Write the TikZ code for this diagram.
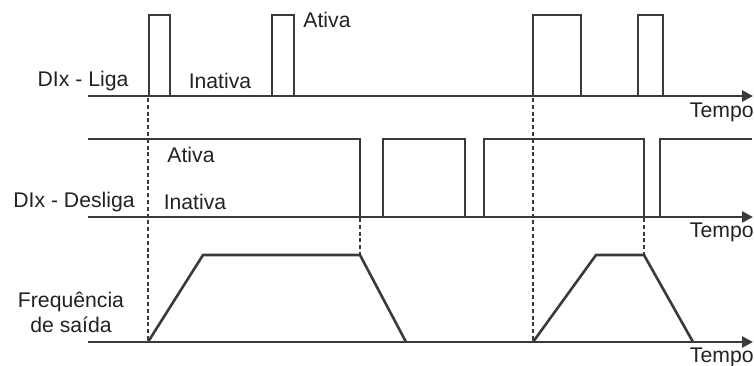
\documentclass[tikz,border=0pt]{standalone}
\usepackage{fontspec}
\setmainfont{Liberation Sans}
\usetikzlibrary{arrows.meta}
\definecolor{signalgray}{HTML}{3A3A3A}
\definecolor{labelgray}{HTML}{222222}

\tikzset{
  wave/.style={draw=signalgray, line width=1.3pt, line join=miter},
  timeaxis/.style={wave, -{Triangle[length=5.5pt,width=5.5pt]}},
  marker/.style={draw=signalgray, line width=1.3pt, dash pattern=on 2pt off 1.4pt},
  lbl/.style={text=labelgray, font=\fontsize{10.6}{12.5}\selectfont, inner sep=0pt},
}

\begin{document}
\begin{tikzpicture}[x=0.5pt, y=-0.5pt]
\useasboundingbox (0,0) rectangle (754,365);

% time axes
\coordinate (ligaA) at (88,96);    \coordinate (ligaB) at (753,96);
\coordinate (deslA) at (88,217);   \coordinate (deslB) at (753,217);
\coordinate (freqA) at (88,342);   \coordinate (freqB) at (753,342);
\draw[timeaxis] (ligaA) -- (ligaB);
\draw[timeaxis] (deslA) -- (deslB);
\draw[timeaxis] (freqA) -- (freqB);

% DIx - Liga
\draw[wave] (149,96) |- (170,15) -- (170,96)
            (272,96) |- (294,15) -- (294,96)
            (533,96) |- (581,15) -- (581,96)
            (638,96) |- (663,15) -- (663,96);

% DIx - Desliga
\draw[wave] (88,139) -| (360,217)
            (383,217) |- (465,139) -- (465,217)
            (484,217) |- (644,139) -- (644,217)
            (660,217) |- (752,139);

% frequencia de saida
\draw[wave] (148,342) -- (203,255) -- (360,255) -- (406,342)
            (533,342) -- (596,255) -- (644,255) -- (693,342);

% instantes
\coordinate (liga1) at (148,98);   \coordinate (rise1) at (148,341);
\coordinate (desl1) at (360,218);  \coordinate (fall1) at (360,255);
\coordinate (liga2) at (533,98);   \coordinate (rise2) at (533,341);
\coordinate (desl2) at (644,218);  \coordinate (fall2) at (644,255);
\draw[marker] (liga1) -- (rise1);
\draw[marker] (desl1) -- (fall1);
\draw[marker] (liga2) -- (rise2);
\draw[marker] (desl2) -- (fall2);

% textos
\node[lbl] (liganame) at (83,81) {DIx - Liga};
\node[lbl] (ligaoff) at (220,81) {Inativa};
\node[lbl] (ligaon) at (327,20) {Ativa};
\node[lbl, anchor=north east] (ligatime) at (754,103) {Tempo};

\node[lbl] (deslname) at (74,202) {DIx - Desliga};
\node[lbl] (deslon) at (191,155) {Ativa};
\node[lbl] (desloff) at (195,202) {Inativa};
\node[lbl, anchor=north east] (desltime) at (754,223) {Tempo};

\node[lbl, align=center] (freqname) at (71,312) {Frequência\\de saída};
\node[lbl, anchor=north east] (freqtime) at (754,347.5) {Tempo};
\end{tikzpicture}
\end{document}
